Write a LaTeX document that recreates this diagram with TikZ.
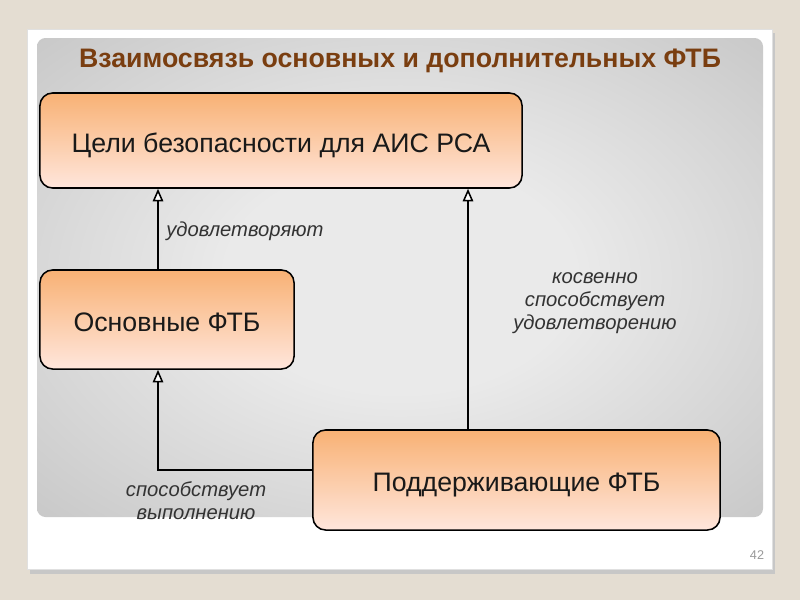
\documentclass[tikz,border=0pt]{standalone}
\usepackage{fontspec}
\setmainfont{Liberation Sans}
\usetikzlibrary{arrows.meta,positioning,calc}
\definecolor{Page}{HTML}{E4DDD2}
\definecolor{TitleBrown}{HTML}{7A3E10}
\definecolor{BoxTop}{HTML}{F8B174}
\definecolor{BoxBot}{HTML}{FFE6DC}
\definecolor{PanelIn}{HTML}{EAEAEA}
\definecolor{PanelEdge}{HTML}{B4B4B4}
\definecolor{PanelOut}{HTML}{A2A2A2}
\pgfdeclareradialshading{panelshade}{\pgfpoint{0bp}{0bp}}{%
  color(0bp)=(PanelIn); color(12bp)=(PanelIn); color(50bp)=(PanelEdge); color(72bp)=(PanelOut)}
\newcommand{\FtbBox}[6]{%
  \node[ftb,minimum width=#4,minimum height=#5] (#1) at (#2,#3) {#6};%
}

\begin{document}
\begin{tikzpicture}[x=0.025cm,y=-0.025cm,
  ftb/.style={draw=black,line width=1.1pt,rounded corners=9pt,top color=BoxTop,bottom color=BoxBot,
    text=black!90,font=\fontsize{19}{22}\selectfont,inner sep=0pt,text height=17pt,text depth=0pt},
  note/.style={text=black!80,font=\itshape\fontsize{14.4}{16.5}\selectfont,align=center,inner sep=0pt},
  flow/.style={draw=black,line width=0.9pt,-{Triangle[open,length=9pt,width=7.5pt,fill=white,line width=1.1pt]}}]
% slide
\fill[Page] (0,0) rectangle (800,600);
\fill[black!22] (30,33) rectangle (775,574);
\fill[white] (27,29) rectangle (772,569);
\draw[black!12,line width=0.4pt] (27,29) rectangle (772,569);
\shade[shading=panelshade,rounded corners=6pt] (37,38) rectangle (763,517);
\node[text=TitleBrown,font=\bfseries\fontsize{19}{22}\selectfont] (title) at (400,61) {Взаимосвязь основных и дополнительных ФТБ};
% boxes
\FtbBox{goals}{281}{140.5}{12.05cm}{2.375cm}{Цели безопасности для АИС РСА}
\FtbBox{basic}{167}{319.5}{6.35cm}{2.475cm}{Основные ФТБ}
\FtbBox{support}{516.5}{480}{10.175cm}{2.5cm}{Поддерживающие ФТБ}
% connectors
\coordinate (leftx) at (158,470);
\coordinate (rightx) at (468,0);
\draw[flow] (basic.north -| leftx) -- (goals.south -| leftx);
\draw[flow] (support.west |- leftx) -- (leftx) -- (basic.south -| leftx);
\draw[flow] (support.north -| rightx) -- (goals.south -| rightx);
\node[note,anchor=west] (satisfy) at (166,231) {удовлетворяют};
\node[note] (indirect) at (595,303) {косвенно\\способствует\\удовлетворению};
\node[note] (fulfil) at (196,501) {способствует\\выполнению};
\node[text=black!40,font=\fontsize{9}{10}\selectfont] (pagenum) at (757,555) {42};
\end{tikzpicture}
\end{document}
